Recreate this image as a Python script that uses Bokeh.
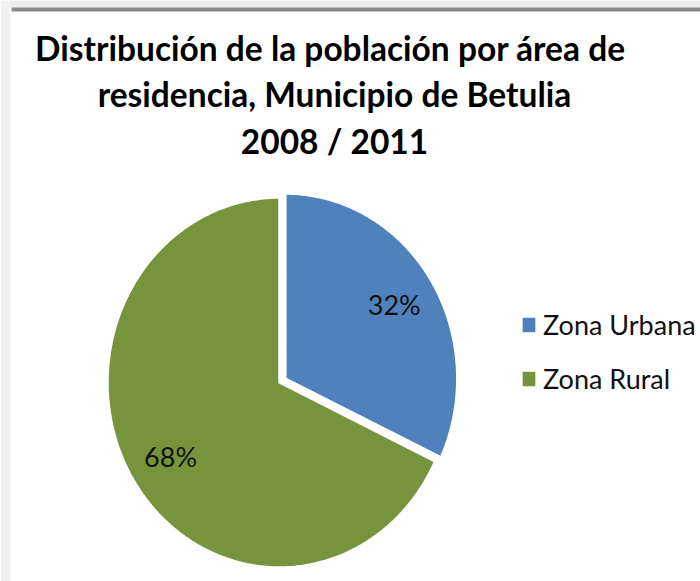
import numpy as np
from bokeh.plotting import figure
from bokeh.models import Label, Legend, LegendItem, ColumnDataSource, Range1d, BoxAnnotation
from bokeh.core.properties import value
from bokeh.embed import file_html
from bokeh.resources import INLINE

# ---- data ----
categories = ["Zona Urbana", "Zona Rural"]
shares = [32, 68]
pct_labels = ["32%", "68%"]
colors = ["#4F81BD", "#77933C"]
title_lines = ["Distribución de la población  por área de",
               "residencia, Municipio de Betulia",
               "2008 / 2011"]

W, H = 700, 581
RX, RY = 172.0, 185.0          # pie radius in pixels (slightly elliptical)
CX, CY = 279.0, 382.0          # pie centre in pixels


def dx(px):
    return (px - CX) / RX


def dy(py):
    return (CY - py) / RY


p = figure(width=W, height=H, x_range=Range1d(dx(0), dx(W)), y_range=Range1d(dy(H), dy(0)),
           output_backend="svg", toolbar_location=None, min_border=0,
           outline_line_color=None, background_fill_color="white",
           border_fill_color="white")
p.axis.visible = False
p.grid.visible = False

# ---- frame decoration (grey window edge of the original screenshot) ----
p.add_layout(BoxAnnotation(left=dx(0), right=dx(W), top=dy(0), bottom=dy(7),
                           fill_color="#ededed", fill_alpha=1, line_color=None))
p.add_layout(BoxAnnotation(left=dx(0), right=dx(10), top=dy(0), bottom=dy(H),
                           fill_color="#f1f1f1", fill_alpha=1, line_color=None))
p.add_layout(BoxAnnotation(left=dx(11), right=dx(W), top=dy(7), bottom=dy(11),
                           fill_color="#8a8a8a", fill_alpha=1, line_color=None))

# ---- pie wedges computed from the shares ----
fr = np.array(shares, dtype=float) / sum(shares)
ends = 90 - 360 * np.cumsum(fr)
starts = np.concatenate([[90.0], ends[:-1]])
explode = [0.04, 0.0]
xs, ys, lx, ly = [], [], [], []
for s, e, ex in zip(starts, ends, explode):
    mid = np.deg2rad((s + e) / 2)
    ox, oy = ex * np.cos(mid), ex * np.sin(mid)
    t = np.deg2rad(np.linspace(s, e, 240))
    xs.append(list(np.concatenate([[ox], ox + np.cos(t), [ox]])))
    ys.append(list(np.concatenate([[oy], oy + np.sin(t), [oy]])))
    lx.append(ox + 0.75 * np.cos(mid))
    ly.append(oy + 0.75 * np.sin(mid))

src = ColumnDataSource(dict(xs=xs, ys=ys, color=colors, label=categories))
r = p.patches("xs", "ys", source=src, fill_color="color",
              line_color="white", line_width=2.5)

lab_src = ColumnDataSource(dict(x=lx, y=ly, text=pct_labels))
p.text("x", "y", text="text", source=lab_src, text_align="center",
       text_baseline="middle", text_font_size="27px", text_color="#111111",
       text_font=value("Lato"))

# ---- title (three centred lines) ----
baselines = [47, 93.5, 140]
for line, b in zip(title_lines, baselines):
    p.add_layout(Label(x=dx(334), y=dy(b), text=line, text_align="center",
                       text_baseline="alphabetic",
                       text_font="Lato", text_font_style="bold",
                       text_font_size="33.5px", text_color="#000000"))

# ---- legend ----
items = [LegendItem(label=c, renderers=[r], index=i) for i, c in enumerate(categories)]
legend = Legend(items=items, location=(519, 186),
                glyph_width=19, glyph_height=21, label_standoff=5,
                spacing=21, padding=0, margin=0,
                label_text_font="Lato", label_text_font_size="27px",
                label_text_color="#111111",
                border_line_color=None, background_fill_alpha=0)
p.add_layout(legend, "center")

open("out.html", "w").write(file_html(p, INLINE))
